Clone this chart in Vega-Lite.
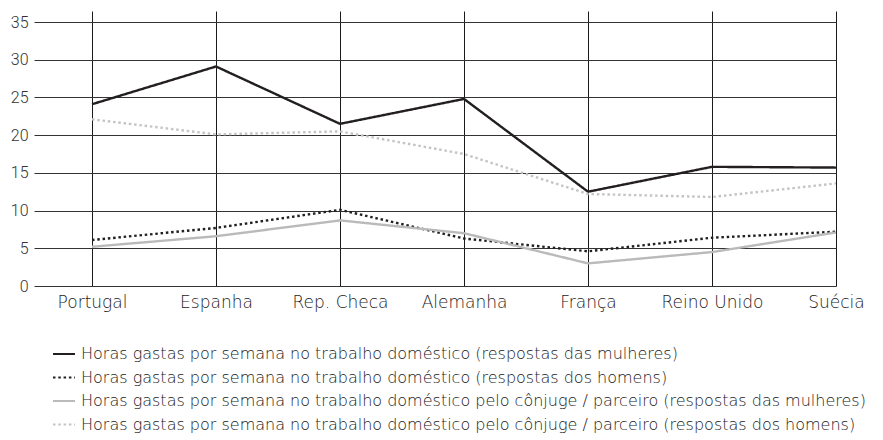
{
  "$schema": "https://vega.github.io/schema/vega-lite/v6.json",
  "width": 802,
  "height": 275,
  "autosize": {"type": "none"},
  "padding": {"left": 34, "top": 11, "right": 47, "bottom": 154},
  "background": "white",
  "config": {
    "font": "DejaVu Sans",
    "view": {"stroke": null},
    "axis": {"labelFont": "DejaVu Sans", "labelColor": "#1a1a1a", "labelFontSize": 17, "labelFontWeight": 200},
    "legend": {"labelFont": "DejaVu Sans", "labelColor": "#1a1a1a", "labelFontSize": 16, "labelFontWeight": 200}
  },
  "data": {
    "values": [
      {"pais": "Portugal", "serie": "Horas gastas por semana no trabalho doméstico (respostas das mulheres)", "horas": 24.1},
      {"pais": "Espanha", "serie": "Horas gastas por semana no trabalho doméstico (respostas das mulheres)", "horas": 29.1},
      {"pais": "Rep. Checa", "serie": "Horas gastas por semana no trabalho doméstico (respostas das mulheres)", "horas": 21.5},
      {"pais": "Alemanha", "serie": "Horas gastas por semana no trabalho doméstico (respostas das mulheres)", "horas": 24.8},
      {"pais": "França", "serie": "Horas gastas por semana no trabalho doméstico (respostas das mulheres)", "horas": 12.5},
      {"pais": "Reino Unido", "serie": "Horas gastas por semana no trabalho doméstico (respostas das mulheres)", "horas": 15.8},
      {"pais": "Suécia", "serie": "Horas gastas por semana no trabalho doméstico (respostas das mulheres)", "horas": 15.7},
      {"pais": "Portugal", "serie": "Horas gastas por semana no trabalho doméstico (respostas dos homens)", "horas": 6.1},
      {"pais": "Espanha", "serie": "Horas gastas por semana no trabalho doméstico (respostas dos homens)", "horas": 7.7},
      {"pais": "Rep. Checa", "serie": "Horas gastas por semana no trabalho doméstico (respostas dos homens)", "horas": 10.1},
      {"pais": "Alemanha", "serie": "Horas gastas por semana no trabalho doméstico (respostas dos homens)", "horas": 6.3},
      {"pais": "França", "serie": "Horas gastas por semana no trabalho doméstico (respostas dos homens)", "horas": 4.6},
      {"pais": "Reino Unido", "serie": "Horas gastas por semana no trabalho doméstico (respostas dos homens)", "horas": 6.4},
      {"pais": "Suécia", "serie": "Horas gastas por semana no trabalho doméstico (respostas dos homens)", "horas": 7.2},
      {"pais": "Portugal", "serie": "Horas gastas por semana no trabalho doméstico pelo cônjuge / parceiro (respostas das mulheres)", "horas": 5.2},
      {"pais": "Espanha", "serie": "Horas gastas por semana no trabalho doméstico pelo cônjuge / parceiro (respostas das mulheres)", "horas": 6.6},
      {"pais": "Rep. Checa", "serie": "Horas gastas por semana no trabalho doméstico pelo cônjuge / parceiro (respostas das mulheres)", "horas": 8.7},
      {"pais": "Alemanha", "serie": "Horas gastas por semana no trabalho doméstico pelo cônjuge / parceiro (respostas das mulheres)", "horas": 7.0},
      {"pais": "França", "serie": "Horas gastas por semana no trabalho doméstico pelo cônjuge / parceiro (respostas das mulheres)", "horas": 3.0},
      {"pais": "Reino Unido", "serie": "Horas gastas por semana no trabalho doméstico pelo cônjuge / parceiro (respostas das mulheres)", "horas": 4.5},
      {"pais": "Suécia", "serie": "Horas gastas por semana no trabalho doméstico pelo cônjuge / parceiro (respostas das mulheres)", "horas": 7.1},
      {"pais": "Portugal", "serie": "Horas gastas por semana no trabalho doméstico pelo cônjuge / parceiro (respostas dos homens)", "horas": 22.1},
      {"pais": "Espanha", "serie": "Horas gastas por semana no trabalho doméstico pelo cônjuge / parceiro (respostas dos homens)", "horas": 20.1},
      {"pais": "Rep. Checa", "serie": "Horas gastas por semana no trabalho doméstico pelo cônjuge / parceiro (respostas dos homens)", "horas": 20.5},
      {"pais": "Alemanha", "serie": "Horas gastas por semana no trabalho doméstico pelo cônjuge / parceiro (respostas dos homens)", "horas": 17.5},
      {"pais": "França", "serie": "Horas gastas por semana no trabalho doméstico pelo cônjuge / parceiro (respostas dos homens)", "horas": 12.2},
      {"pais": "Reino Unido", "serie": "Horas gastas por semana no trabalho doméstico pelo cônjuge / parceiro (respostas dos homens)", "horas": 11.8},
      {"pais": "Suécia", "serie": "Horas gastas por semana no trabalho doméstico pelo cônjuge / parceiro (respostas dos homens)", "horas": 13.6}
    ]
  },
  "mark": {"type": "line", "strokeWidth": 2.4},
  "encoding": {
    "x": {
      "field": "pais",
      "type": "nominal",
      "sort": null,
      "scale": {"type": "point", "padding": 0.2339, "align": 1},
      "axis": {"title": null, "labelAngle": 0, "ticks": false, "domain": false, "grid": true, "gridColor": "#1a1a1a", "gridWidth": 1, "gridOpacity": 1, "labelPadding": 8}
    },
    "y": {
      "field": "horas",
      "type": "quantitative",
      "scale": {"domain": [0, 36.46], "nice": false},
      "axis": {"title": null, "values": [0, 5, 10, 15, 20, 25, 30, 35], "ticks": false, "domain": false, "grid": true, "gridColor": "#333333", "gridWidth": 1, "gridOpacity": 1, "labelPadding": 6, "labelFont": "Roboto", "labelFontSize": 16, "labelFontWeight": 300, "labelColor": "#333333"}
    },
    "color": {
      "field": "serie",
      "type": "nominal",
      "sort": null,
      "scale": {
        "domain": [
          "Horas gastas por semana no trabalho doméstico (respostas das mulheres)",
          "Horas gastas por semana no trabalho doméstico (respostas dos homens)",
          "Horas gastas por semana no trabalho doméstico pelo cônjuge / parceiro (respostas das mulheres)",
          "Horas gastas por semana no trabalho doméstico pelo cônjuge / parceiro (respostas dos homens)"
        ],
        "range": ["#231f20", "#231f20", "#bababa", "#c4c4c4"]
      },
      "legend": {
        "title": null,
        "orient": "none",
        "legendX": 18,
        "legendY": 331,
        "symbolType": "stroke",
        "symbolSize": 484,
        "symbolStrokeWidth": 2,
        "rowPadding": 3.5,
        "labelOffset": 5,
        "labelLimit": 800
      }
    },
    "strokeDash": {
      "field": "serie",
      "type": "nominal",
      "sort": null,
      "scale": {
        "domain": [
          "Horas gastas por semana no trabalho doméstico (respostas das mulheres)",
          "Horas gastas por semana no trabalho doméstico (respostas dos homens)",
          "Horas gastas por semana no trabalho doméstico pelo cônjuge / parceiro (respostas das mulheres)",
          "Horas gastas por semana no trabalho doméstico pelo cônjuge / parceiro (respostas dos homens)"
        ],
        "range": [[1, 0], [2.5, 2.8], [1, 0], [2.5, 2.8]]
      },
      "legend": {
        "title": null,
        "orient": "none",
        "legendX": 18,
        "legendY": 331,
        "symbolType": "stroke",
        "symbolSize": 484,
        "symbolStrokeWidth": 2,
        "rowPadding": 3.5,
        "labelOffset": 5,
        "labelLimit": 800
      }
    }
  }
}
